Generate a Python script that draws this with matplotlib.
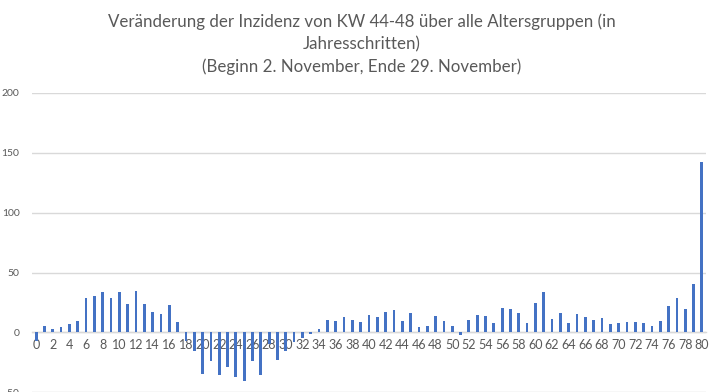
import numpy as np
import matplotlib.pyplot as plt

plt.rcParams['font.family'] = ['Lato', 'DejaVu Sans']

# Altersjahre 0..80 und Veränderung der Inzidenz KW 44 -> KW 48
alter = list(range(0, 81))
veraenderung = [
    -7, 5, 3, 4.5, 7, 9.5, 28.5, 30.5, 33.5, 28.5,
    33.5, 23.5, 34.5, 23.5, 17, 15.5, 23, 8.5, -7, -15.5,
    -34.5, -24, -35.5, -29, -37, -40.5, -24, -35.5, -9.5, -23,
    -15.5, -8, -4.5, -1, 2.5, 10.5, 9.5, 13, 10.5, 8.5,
    14.5, 13, 17, 18.5, 9.5, 16, 4.5, 5.5, 13.5, 9.5,
    5.5, -2, 10.5, 14.5, 13.5, 8, 20.5, 19.5, 16, 8,
    24.5, 33.5, 11, 16, 8, 15.5, 13, 10.5, 12, 7,
    8, 8.5, 8.5, 8, 5.5, 9.5, 22, 28.5, 19.5, 40.5,
    142,
]
y_ticks = [-50, 0, 50, 100, 150, 200]
titel = ('Veränderung der Inzidenz von KW 44-48 über alle Altersgruppen (in\n'
         'Jahresschritten)\n'
         '(Beginn 2. November, Ende 29. November)')

grau = '#595959'
gitter = '#D9D9D9'

fig = plt.figure(figsize=(7.16, 3.92), dpi=100)
ax = fig.add_axes([32 / 716, -0.001, 674 / 716, 0.7645])

ax.bar(alter, veraenderung, width=0.33, color='#4472C4', zorder=3)

ax.set_xlim(-0.5, 80.5)
ax.set_ylim(-50, 200)
ax.set_yticks(y_ticks)
ax.set_xticks(alter[::2])
ax.set_xticklabels([str(a) for a in alter[::2]])

ax.grid(axis='y', color=gitter, linewidth=1, zorder=0)
for s in ['top', 'right', 'left']:
    ax.spines[s].set_visible(False)
ax.spines['bottom'].set_position(('data', 0))
ax.spines['bottom'].set_color(gitter)
ax.spines['bottom'].set_linewidth(1)
ax.spines['bottom'].set_zorder(2)

ax.tick_params(axis='x', length=0, pad=5, labelsize=9, labelcolor=grau)
ax.tick_params(axis='y', length=0, pad=9, labelsize=7.5, labelcolor=grau)

fig.text(0.505, 0.965, titel, ha='center', va='top', fontsize=12.2,
         color=grau, linespacing=1.45)

fig.savefig('out.png', dpi=100)
